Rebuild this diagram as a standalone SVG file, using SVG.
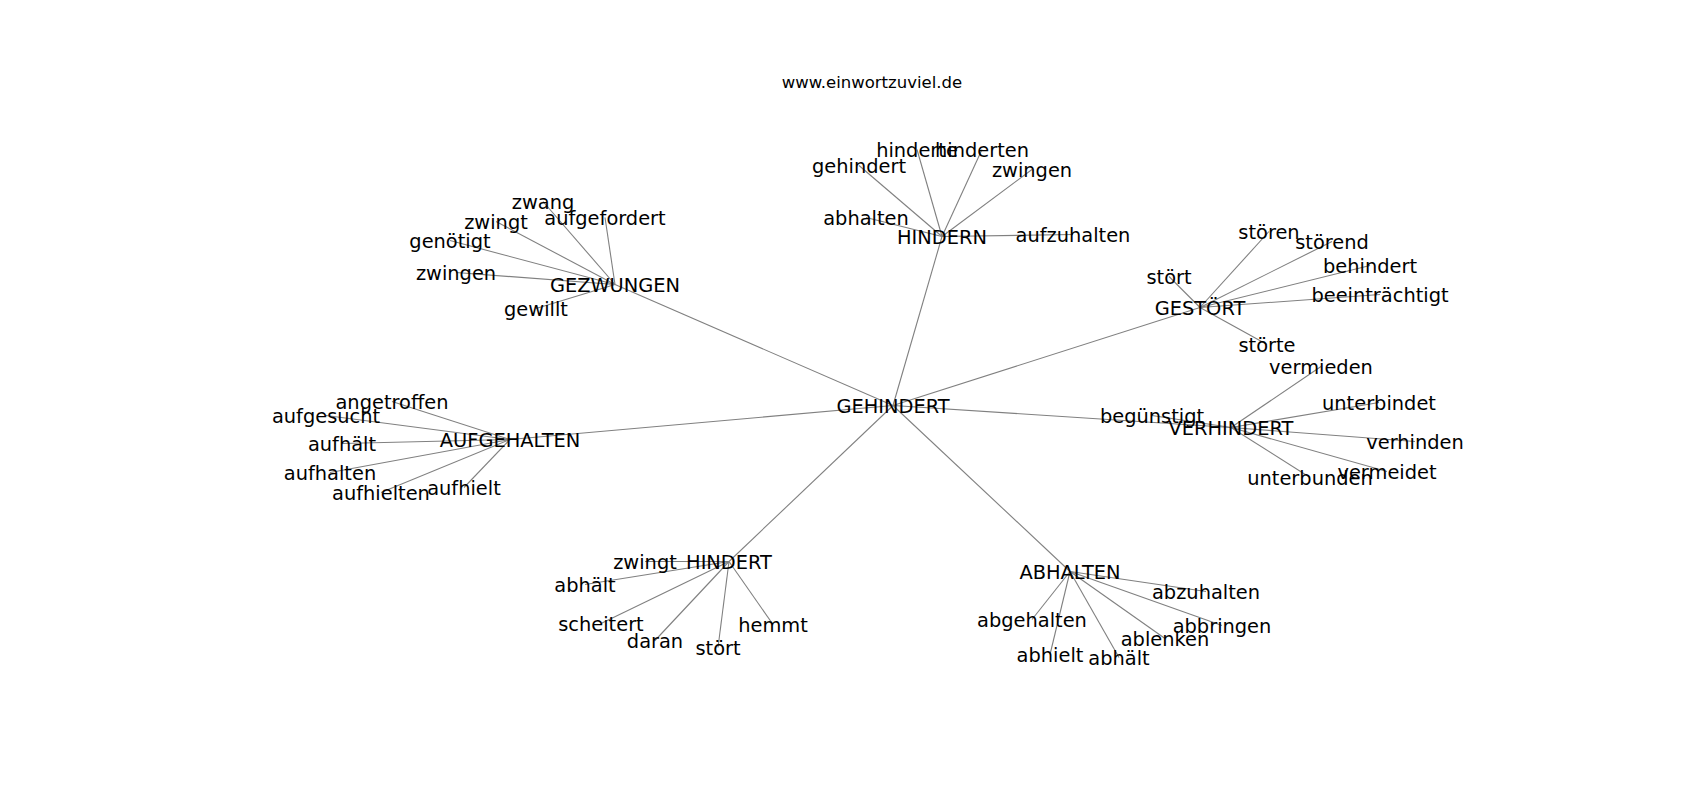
<svg xmlns="http://www.w3.org/2000/svg" width="1700" height="800" viewBox="0 0 1700 800">
<style>
  .bg { fill: #ffffff; }
  .edge line { stroke: #808080; stroke-width: 1.1; fill: none; }
  .lbl { font-family: "DejaVu Sans", "Liberation Sans", sans-serif; font-size: 19.4px; fill: #000000; text-anchor: middle; }
  .title { font-family: "DejaVu Sans", "Liberation Sans", sans-serif; font-size: 16.5px; fill: #000000; text-anchor: middle; }
</style>
<rect class="bg" x="0" y="0" width="1700" height="800"/>
<text class="title" x="872" y="88">www.einwortzuviel.de</text>
<g id="connectors" class="edge">
  <line x1="893" y1="405.5" x2="942" y2="236.5"/>
  <line x1="893" y1="405.5" x2="615" y2="284.5"/>
  <line x1="893" y1="405.5" x2="1200" y2="307.5"/>
  <line x1="893" y1="405.5" x2="1231" y2="427.5"/>
  <line x1="893" y1="405.5" x2="510" y2="439.5"/>
  <line x1="893" y1="405.5" x2="729" y2="561.5"/>
  <line x1="893" y1="405.5" x2="1070" y2="571.5"/>
  <line x1="942" y1="236.5" x2="917" y2="149.5"/>
  <line x1="942" y1="236.5" x2="982" y2="149.5"/>
  <line x1="942" y1="236.5" x2="859" y2="165.5"/>
  <line x1="942" y1="236.5" x2="1032" y2="169.5"/>
  <line x1="942" y1="236.5" x2="866" y2="217.5"/>
  <line x1="942" y1="236.5" x2="1073" y2="234.5"/>
  <line x1="615" y1="284.5" x2="543" y2="201.5"/>
  <line x1="615" y1="284.5" x2="605" y2="217.5"/>
  <line x1="615" y1="284.5" x2="496" y2="221.5"/>
  <line x1="615" y1="284.5" x2="450" y2="240.5"/>
  <line x1="615" y1="284.5" x2="456" y2="272.5"/>
  <line x1="615" y1="284.5" x2="536" y2="308.5"/>
  <line x1="1200" y1="307.5" x2="1269" y2="231.5"/>
  <line x1="1200" y1="307.5" x2="1332" y2="241.5"/>
  <line x1="1200" y1="307.5" x2="1370" y2="265.5"/>
  <line x1="1200" y1="307.5" x2="1380" y2="294.5"/>
  <line x1="1200" y1="307.5" x2="1169" y2="276.5"/>
  <line x1="1200" y1="307.5" x2="1267" y2="344.5"/>
  <line x1="1231" y1="427.5" x2="1321" y2="366.5"/>
  <line x1="1231" y1="427.5" x2="1379" y2="402.5"/>
  <line x1="1231" y1="427.5" x2="1415" y2="441.5"/>
  <line x1="1231" y1="427.5" x2="1387" y2="471.5"/>
  <line x1="1231" y1="427.5" x2="1310" y2="477.5"/>
  <line x1="1231" y1="427.5" x2="1152" y2="415.5"/>
  <line x1="510" y1="439.5" x2="392" y2="401.5"/>
  <line x1="510" y1="439.5" x2="326" y2="415.5"/>
  <line x1="510" y1="439.5" x2="342" y2="443.5"/>
  <line x1="510" y1="439.5" x2="330" y2="472.5"/>
  <line x1="510" y1="439.5" x2="381" y2="492.5"/>
  <line x1="510" y1="439.5" x2="464" y2="487.5"/>
  <line x1="729" y1="561.5" x2="645" y2="561.5"/>
  <line x1="729" y1="561.5" x2="585" y2="584.5"/>
  <line x1="729" y1="561.5" x2="601" y2="623.5"/>
  <line x1="729" y1="561.5" x2="655" y2="640.5"/>
  <line x1="729" y1="561.5" x2="718" y2="647.5"/>
  <line x1="729" y1="561.5" x2="773" y2="624.5"/>
  <line x1="1070" y1="571.5" x2="1206" y2="591.5"/>
  <line x1="1070" y1="571.5" x2="1032" y2="619.5"/>
  <line x1="1070" y1="571.5" x2="1222" y2="625.5"/>
  <line x1="1070" y1="571.5" x2="1165" y2="638.5"/>
  <line x1="1070" y1="571.5" x2="1050" y2="654.5"/>
  <line x1="1070" y1="571.5" x2="1119" y2="657.5"/>
</g>
<g id="nodes" transform="translate(0,1.5)">
<g id="n-gehindert"><text class="lbl" x="893" y="411">GEHINDERT</text></g>
<g id="n-hindern"><text class="lbl" x="942" y="242">HINDERN</text></g>
<g id="n-hindern-hinderte"><text class="lbl" x="917" y="155">hinderte</text></g>
<g id="n-hindern-hinderten"><text class="lbl" x="982" y="155">hinderten</text></g>
<g id="n-hindern-gehindert"><text class="lbl" x="859" y="171">gehindert</text></g>
<g id="n-hindern-zwingen"><text class="lbl" x="1032" y="175">zwingen</text></g>
<g id="n-hindern-abhalten"><text class="lbl" x="866" y="223">abhalten</text></g>
<g id="n-hindern-aufzuhalten"><text class="lbl" x="1073" y="240">aufzuhalten</text></g>
<g id="n-gezwungen"><text class="lbl" x="615" y="290">GEZWUNGEN</text></g>
<g id="n-gezwungen-zwang"><text class="lbl" x="543" y="207">zwang</text></g>
<g id="n-gezwungen-aufgefordert"><text class="lbl" x="605" y="223">aufgefordert</text></g>
<g id="n-gezwungen-zwingt"><text class="lbl" x="496" y="227">zwingt</text></g>
<g id="n-gezwungen-genoetigt"><text class="lbl" x="450" y="246">genötigt</text></g>
<g id="n-gezwungen-zwingen"><text class="lbl" x="456" y="278">zwingen</text></g>
<g id="n-gezwungen-gewillt"><text class="lbl" x="536" y="314">gewillt</text></g>
<g id="n-gestoert"><text class="lbl" x="1200" y="313">GESTÖRT</text></g>
<g id="n-gestoert-stoeren"><text class="lbl" x="1269" y="237">stören</text></g>
<g id="n-gestoert-stoerend"><text class="lbl" x="1332" y="247">störend</text></g>
<g id="n-gestoert-behindert"><text class="lbl" x="1370" y="271">behindert</text></g>
<g id="n-gestoert-beeintraechtigt"><text class="lbl" x="1380" y="300">beeinträchtigt</text></g>
<g id="n-gestoert-stoert"><text class="lbl" x="1169" y="282">stört</text></g>
<g id="n-gestoert-stoerte"><text class="lbl" x="1267" y="350">störte</text></g>
<g id="n-verhindert"><text class="lbl" x="1231" y="433">VERHINDERT</text></g>
<g id="n-verhindert-vermieden"><text class="lbl" x="1321" y="372">vermieden</text></g>
<g id="n-verhindert-unterbindet"><text class="lbl" x="1379" y="408">unterbindet</text></g>
<g id="n-verhindert-verhinden"><text class="lbl" x="1415" y="447">verhinden</text></g>
<g id="n-verhindert-vermeidet"><text class="lbl" x="1387" y="477">vermeidet</text></g>
<g id="n-verhindert-unterbunden"><text class="lbl" x="1310" y="483">unterbunden</text></g>
<g id="n-verhindert-beguenstigt"><text class="lbl" x="1152" y="421">begünstigt</text></g>
<g id="n-aufgehalten"><text class="lbl" x="510" y="445">AUFGEHALTEN</text></g>
<g id="n-aufgehalten-angetroffen"><text class="lbl" x="392" y="407">angetroffen</text></g>
<g id="n-aufgehalten-aufgesucht"><text class="lbl" x="326" y="421">aufgesucht</text></g>
<g id="n-aufgehalten-aufhaelt"><text class="lbl" x="342" y="449">aufhält</text></g>
<g id="n-aufgehalten-aufhalten"><text class="lbl" x="330" y="478">aufhalten</text></g>
<g id="n-aufgehalten-aufhielten"><text class="lbl" x="381" y="498">aufhielten</text></g>
<g id="n-aufgehalten-aufhielt"><text class="lbl" x="464" y="493">aufhielt</text></g>
<g id="n-hindert"><text class="lbl" x="729" y="567">HINDERT</text></g>
<g id="n-hindert-zwingt"><text class="lbl" x="645" y="567">zwingt</text></g>
<g id="n-hindert-abhaelt"><text class="lbl" x="585" y="590">abhält</text></g>
<g id="n-hindert-scheitert"><text class="lbl" x="601" y="629">scheitert</text></g>
<g id="n-hindert-daran"><text class="lbl" x="655" y="646">daran</text></g>
<g id="n-hindert-stoert"><text class="lbl" x="718" y="653">stört</text></g>
<g id="n-hindert-hemmt"><text class="lbl" x="773" y="630">hemmt</text></g>
<g id="n-abhalten"><text class="lbl" x="1070" y="577">ABHALTEN</text></g>
<g id="n-abhalten-abzuhalten"><text class="lbl" x="1206" y="597">abzuhalten</text></g>
<g id="n-abhalten-abgehalten"><text class="lbl" x="1032" y="625">abgehalten</text></g>
<g id="n-abhalten-abbringen"><text class="lbl" x="1222" y="631">abbringen</text></g>
<g id="n-abhalten-ablenken"><text class="lbl" x="1165" y="644">ablenken</text></g>
<g id="n-abhalten-abhielt"><text class="lbl" x="1050" y="660">abhielt</text></g>
<g id="n-abhalten-abhaelt"><text class="lbl" x="1119" y="663">abhält</text></g>
</g>
</svg>
